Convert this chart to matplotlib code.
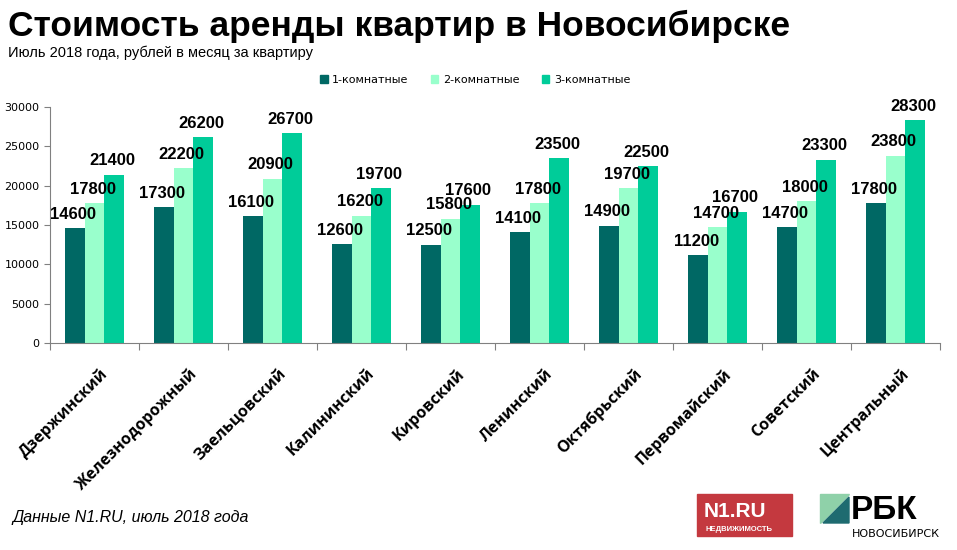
import matplotlib.pyplot as plt
import matplotlib.patches as mpatches
import numpy as np

# data
districts = ["Дзержинский", "Железнодорожный", "Заельцовский", "Калининский", "Кировский",
             "Ленинский", "Октябрьский", "Первомайский", "Советский", "Центральный"]
series_names = ["1-комнатные", "2-комнатные", "3-комнатные"]
one_room = [14600, 17300, 16100, 12600, 12500, 14100, 14900, 11200, 14700, 17800]
two_room = [17800, 22200, 20900, 16200, 15800, 17800, 19700, 14700, 18000, 23800]
three_room = [21400, 26200, 26700, 19700, 17600, 23500, 22500, 16700, 23300, 28300]
colors = ["#006864", "#99FFCC", "#00CC99"]

W, H = 957, 550
fig = plt.figure(figsize=(W / 100, H / 100), dpi=100)
ax = fig.add_axes([50 / W, (H - 343) / H, 890 / W, 236 / H])

x = np.arange(len(districts))
bw = 0.22
num_font = ["Liberation Sans Narrow", "Liberation Sans"]
for i, vals in enumerate([one_room, two_room, three_room]):
    pos = x + (i - 1) * bw
    ax.bar(pos, vals, bw, color=colors[i], label=series_names[i])
    for px, v in zip(pos, vals):
        ax.text(px - 0.02, v + 800, str(v), ha="center", va="bottom", fontsize=12,
                fontweight="bold", family=num_font)

ax.set_xlim(-0.5, len(districts) - 0.5)
ax.set_ylim(0, 30000)
ax.set_yticks(range(0, 30001, 5000))
ax.tick_params(axis="y", labelsize=8, colors="#808080", labelcolor="black", length=4)
ax.set_xticks(np.arange(-0.5, len(districts), 1))
ax.set_xticklabels([])
ax.tick_params(axis="x", colors="#808080", length=5)
for s in ["top", "right"]:
    ax.spines[s].set_visible(False)
for s in ["left", "bottom"]:
    ax.spines[s].set_color("#808080")

for px, name in zip(x, districts):
    ax.text(px + 0.06, -2900, name, rotation=45, ha="right", va="top", rotation_mode="anchor",
            fontsize=11.5, fontweight="bold", family="Open Sans")

# legend
handles = [mpatches.Patch(color=c) for c in colors]
fig.legend(handles, series_names, loc="center", bbox_to_anchor=(475 / W, 1 - 80 / H), ncol=3,
           frameon=False, fontsize=8, handlelength=0.7, handleheight=0.7, columnspacing=2.0,
           handletextpad=0.4)

# titles
fig.text(8 / W, 1 - 36 / H, "Стоимость аренды квартир в Новосибирске", fontsize=25.5,
         fontweight="bold", family="Liberation Sans", va="baseline")
fig.text(8 / W, 1 - 57 / H, "Июль 2018 года, рублей в месяц за квартиру", fontsize=10.5,
         family="Liberation Sans", va="baseline")
fig.text(12 / W, 1 - 522 / H, "Данные N1.RU, июль 2018 года", fontsize=11.5, style="italic",
         family="Liberation Sans", va="baseline")

# N1 logo
fig.patches.append(mpatches.Rectangle((697 / W, 1 - 536 / H), 95 / W, 42 / H,
                                      transform=fig.transFigure, color="#C4393F"))
fig.text(704 / W, 1 - 517 / H, "N1.RU", color="white", fontsize=15, fontweight="bold",
         ha="left", va="baseline", family="Liberation Sans")
fig.text(705 / W, 1 - 531 / H, "НЕДВИЖИМОСТЬ", color="white", fontsize=5.5, fontweight="bold",
         ha="left", va="baseline", family="Liberation Sans")

# RBC logo
x0, y0, s = 820 / W, 1 - 523 / H, 29
fig.patches.append(mpatches.Polygon([(x0, y0), (x0, y0 + s / H), (x0 + s / W, y0 + s / H)],
                                    closed=True, transform=fig.transFigure, color="#8FD1A9"))
fig.patches.append(mpatches.Polygon([(x0 + 3 / W, y0), (x0 + s / W, y0 + (s - 3) / H), (x0 + s / W, y0)],
                                    closed=True, transform=fig.transFigure, color="#1E6B70"))
fig.text(851 / W, 1 - 519 / H, "РБК", fontsize=24, fontweight="bold", family="Liberation Sans",
         va="baseline")
fig.text(852 / W, 1 - 537 / H, "НОВОСИБИРСК", fontsize=8, family="Liberation Sans Narrow",
         va="baseline")

fig.savefig("out.png", dpi=100)
